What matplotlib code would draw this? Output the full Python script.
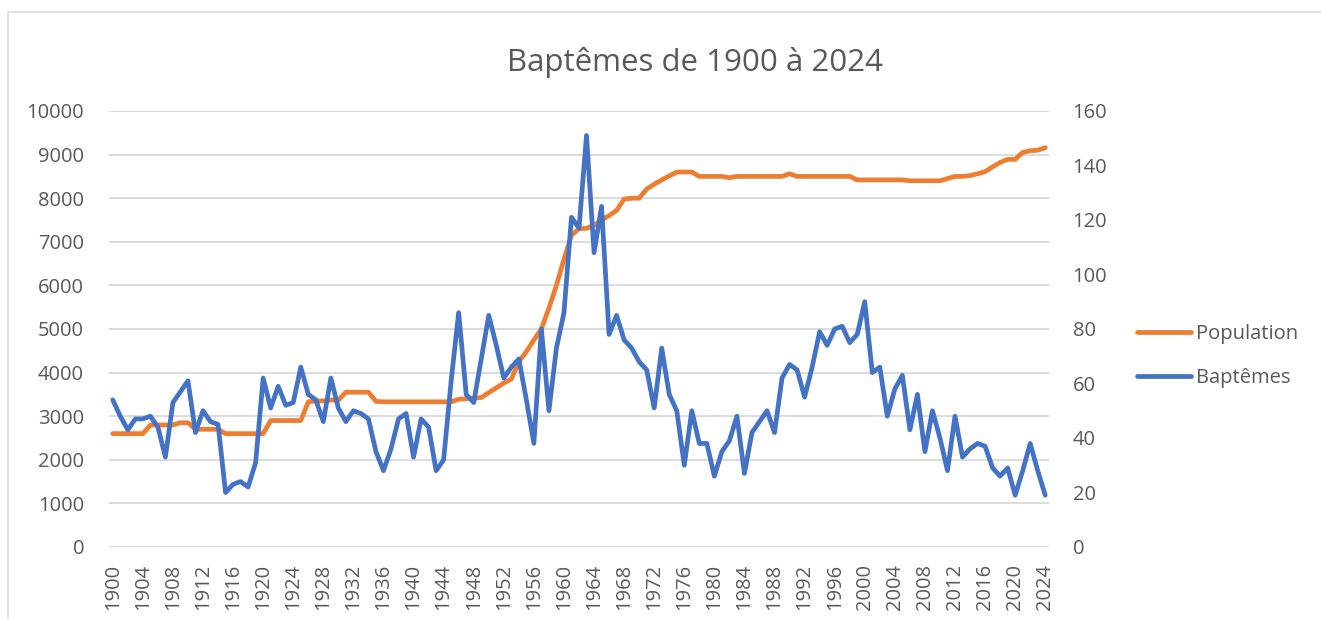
import matplotlib
matplotlib.use("Agg")
import matplotlib.pyplot as plt
from matplotlib.patches import Rectangle

# Data
years = list(range(1900, 2025))

population = [
    2600, 2600, 2600, 2600, 2600, 2800, 2800, 2800, 2800, 2850,  # 1900-1909
    2850, 2700, 2700, 2700, 2700, 2600, 2600, 2600, 2600, 2600,  # 1910-1919
    2600, 2900, 2900, 2900, 2900, 2900, 3330, 3350, 3350, 3370,  # 1920-1929
    3370, 3550, 3550, 3550, 3550, 3340, 3330, 3330, 3330, 3330,  # 1930-1939
    3330, 3330, 3330, 3330, 3330, 3330, 3390, 3400, 3410, 3430,  # 1940-1949
    3540, 3650, 3760, 3850, 4250, 4480, 4750, 5000, 5480, 6000,  # 1950-1959
    6600, 7150, 7300, 7310, 7380, 7500, 7600, 7720, 7980, 8000,  # 1960-1969
    8000, 8210, 8320, 8420, 8510, 8600, 8600, 8600, 8500, 8500,  # 1970-1979
    8500, 8500, 8470, 8500, 8500, 8500, 8500, 8500, 8500, 8500,  # 1980-1989
    8560, 8500, 8500, 8500, 8500, 8500, 8500, 8500, 8500, 8420,  # 1990-1999
    8420, 8420, 8420, 8420, 8420, 8420, 8400, 8400, 8400, 8400,  # 2000-2009
    8400, 8450, 8500, 8500, 8520, 8560, 8610, 8720, 8820, 8890,  # 2010-2019
    8890, 9050, 9090, 9100, 9160,                                # 2020-2024
]

baptemes = [
    54, 48, 43, 47, 47, 48, 44, 33, 53, 57,     # 1900-1909
    61, 42, 50, 46, 45, 20, 23, 24, 22, 31,     # 1910-1919
    62, 51, 59, 52, 53, 66, 56, 54, 46, 62,     # 1920-1929
    51, 46, 50, 49, 47, 35, 28, 36, 47, 49,     # 1930-1939
    33, 47, 44, 28, 32, 61, 86, 56, 53, 69,     # 1940-1949
    85, 74, 62, 66, 69, 54, 38, 80, 50, 73,     # 1950-1959
    86, 121, 117, 151, 108, 125, 78, 85, 76, 73,  # 1960-1969
    68, 65, 51, 73, 56, 50, 30, 50, 38, 38,     # 1970-1979
    26, 35, 39, 48, 27, 42, 46, 50, 42, 62,     # 1980-1989
    67, 65, 55, 66, 79, 74, 80, 81, 75, 78,     # 1990-1999
    90, 64, 66, 48, 58, 63, 43, 56, 35, 50,     # 2000-2009
    40, 28, 48, 33, 36, 38, 37, 29, 26, 29,     # 2010-2019
    19, 28, 38, 28, 19,                         # 2020-2024
]

tick_years = list(range(1900, 2025, 4))

orange = "#ED7D31"
blue = "#4472C4"
grey_text = "#595959"
grid_col = "#D9D9D9"

plt.rcParams["font.family"] = ["Open Sans", "DejaVu Sans"]

fig = plt.figure(figsize=(13.21, 6.19), dpi=100)
fig.patch.set_facecolor("white")

# chart area border (Excel style)
fig.add_artist(Rectangle((8 / 1321, -0.2), 1.5, 1.2 - 12 / 619,
                         transform=fig.transFigure, fill=False,
                         edgecolor=grid_col, linewidth=1.2))

ax = fig.add_axes([109 / 1321, 1 - 547 / 619, (1049 - 109) / 1321, (547 - 111) / 619])
ax2 = ax.twinx()

l1, = ax.plot(years, population, color=orange, linewidth=3.4, label="Population",
              solid_capstyle="round", solid_joinstyle="round")
l2, = ax2.plot(years, baptemes, color=blue, linewidth=3.4, label="Baptêmes",
               solid_capstyle="round", solid_joinstyle="round")

ax.set_xlim(1899.5, 2024.5)
ax.set_ylim(0, 10000)
ax2.set_ylim(0, 160)
ax.set_yticks(range(0, 10001, 1000))
ax2.set_yticks(range(0, 161, 20))
ax.set_xticks(tick_years)
ax.set_xticklabels([str(y) for y in tick_years], rotation=90)

ax.grid(axis="y", color=grid_col, linewidth=1.3)
ax.set_axisbelow(True)

for a in (ax, ax2):
    for s in a.spines.values():
        s.set_visible(False)
    a.tick_params(length=0, labelsize=14.5, colors=grey_text)
ax.tick_params(axis="y", pad=18)
ax2.tick_params(axis="y", pad=17)
ax.tick_params(axis="x", pad=12)

fig.text(695 / 1321, 1 - 63 / 619, "Baptêmes de 1900 à 2024", ha="center", va="center",
         fontsize=22.5, color=grey_text)

leg = fig.legend(handles=[l1, l2], loc="center left",
                 bbox_to_anchor=(1137 / 1321, 1 - 356 / 619), frameon=False,
                 fontsize=14.5, handlelength=2.7, handletextpad=0.25,
                 labelspacing=1.2, borderpad=0, borderaxespad=0)
for t in leg.get_texts():
    t.set_color(grey_text)

fig.savefig("out.png", dpi=100, facecolor="white")
